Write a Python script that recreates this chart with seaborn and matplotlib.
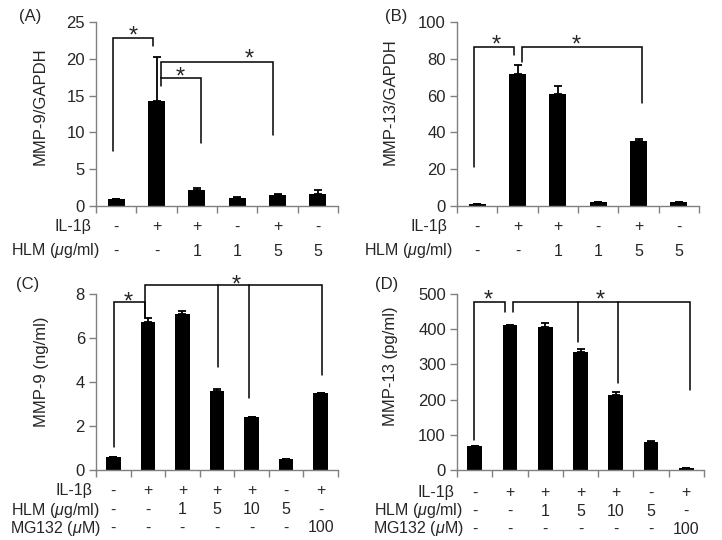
import numpy as np
import pandas as pd
import matplotlib
matplotlib.use("Agg")
import matplotlib.pyplot as plt
import matplotlib.transforms as mtransforms
import seaborn as sns

# ---- data ----
# panel A / B : 6 groups
il1b_ab = ['-', '+', '+', '-', '+', '-']
hlm_ab = ['-', '-', '1', '1', '5', '5']
mmp9_gapdh = [1.0, 14.3, 2.17, 1.1, 1.5, 1.65]
mmp9_gapdh_err = [0.0, 5.9, 0.23, 0.1, 0.1, 0.52]
mmp13_gapdh = [1.0, 71.7, 60.7, 2.0, 35.3, 2.0]
mmp13_gapdh_err = [0.0, 4.8, 4.5, 0.4, 1.1, 0.3]

# panel C / D : 7 groups
il1b_cd = ['-', '+', '+', '+', '+', '-', '+']
hlm_cd = ['-', '-', '1', '5', '10', '5', '-']
mg132_cd = ['-', '-', '-', '-', '-', '-', '100']
mmp9_ng = [0.58, 6.71, 7.09, 3.58, 2.41, 0.5, 3.49]
mmp9_ng_err = [0.0, 0.18, 0.14, 0.08, 0.0, 0.0, 0.03]
mmp13_pg = [67, 411, 407, 334, 213, 80, 6.5]
mmp13_pg_err = [2.5, 2, 10, 11, 9, 2, 0]

sns.set_theme(style="ticks")
plt.rcParams['font.family'] = ['Liberation Sans', 'DejaVu Sans']
plt.rcParams['mathtext.fontset'] = 'custom'
plt.rcParams['mathtext.rm'] = 'Liberation Sans'
plt.rcParams['mathtext.it'] = 'Liberation Sans:italic'

FS = 12
TFS = 11.5
W, H = 722, 540
fig = plt.figure(figsize=(W / 100, H / 100), dpi=100)


def fx(px):
    return px / W


def fy(py):
    return 1 - py / H


def panel(rect, vals, errs, ymax, ystep, ylabel, ylab_pos, letter, letter_pos):
    ax = fig.add_axes(rect)
    n = len(vals)
    df = pd.DataFrame({'grp': [f'g{i}' for i in range(n)], 'val': vals})
    sns.barplot(data=df, x='grp', y='val', color='black', width=0.42,
                errorbar=None, saturation=1, linewidth=0, ax=ax)
    ax.errorbar(np.arange(n), vals, yerr=[np.zeros(n), errs], fmt='none',
                ecolor='black', elinewidth=1.3, capsize=3, capthick=1.3)
    ax.set_xlim(-0.5, n - 0.5)
    ax.set_ylim(0, ymax)
    ax.set_yticks(np.arange(0, ymax + ystep / 2, ystep))
    ax.set_xticks(np.arange(-0.5, n, 1.0))
    ax.set_xticklabels([])
    ax.tick_params(axis='x', length=5, color='#808080', width=1)
    ax.tick_params(axis='y', length=5, color='#808080', width=1,
                   labelsize=FS, pad=3)
    for s in ['top', 'right']:
        ax.spines[s].set_visible(False)
    for s in ['left', 'bottom']:
        ax.spines[s].set_color('#808080')
        ax.spines[s].set_linewidth(1)
    ax.set_xlabel('')
    ax.set_ylabel(ylabel, fontsize=FS)
    ax.yaxis.set_label_coords(*ylab_pos)
    fig.text(fx(letter_pos[0]), fy(letter_pos[1]), letter, fontsize=FS,
             ha='center', va='center')
    return ax


def bracket(ax, pts, lw=1.1):
    xs, ys = zip(*pts)
    ax.plot(xs, ys, color='black', lw=lw, clip_on=False, solid_joinstyle='miter')


def star(ax, x, y):
    # shift down so the glyph itself (not its line box) is centred on y
    tr = mtransforms.offset_copy(ax.transData, fig=fig, x=0, y=-7, units='dots')
    ax.text(x, y, '*', fontsize=17, ha='center', va='center', clip_on=False,
            transform=tr)


def rows(ax, labels, label_pos, row_vals):
    tr = mtransforms.blended_transform_factory(ax.transData, fig.transFigure)
    for lab, (lx, ly), vals in zip(labels, label_pos, row_vals):
        fig.text(fx(lx), fy(ly), lab, fontsize=TFS, ha='center', va='center')
        for i, v in enumerate(vals):
            ax.text(i, fy(ly), v, fontsize=TFS, ha='center', va='center',
                    transform=tr)


# (A)
axA = panel([fx(96), fy(206), fx(242), 184 / H], mmp9_gapdh, mmp9_gapdh_err,
            25, 5, 'MMP-9/GAPDH', (-0.198, 0.54), '(A)', (30, 17))
bracket(axA, [(-0.08, 7.5), (-0.08, 22.8), (0.91, 22.8), (0.91, 21.7)])
star(axA, 0.43, 24.0)
bracket(axA, [(1.11, 16.3), (1.11, 17.4), (2.1, 17.4), (2.1, 8.6)])
star(axA, 1.6, 18.4)
bracket(axA, [(1.11, 17.4), (1.11, 19.6), (3.89, 19.6), (3.89, 9.6)])
star(axA, 3.3, 20.8)
rows(axA, ['IL-1β', 'HLM ($\\mu$g/ml)'], [(72.5, 227), (55.5, 251)],
     [il1b_ab, hlm_ab])

# (B)
axB = panel([fx(457), fy(206), fx(242), 184 / H], mmp13_gapdh, mmp13_gapdh_err,
            100, 20, 'MMP-13/GAPDH', (-0.244, 0.565), '(B)', (396, 17))
bracket(axB, [(-0.09, 21), (-0.09, 86.5), (0.91, 86.5), (0.91, 82)])
star(axB, 0.47, 91)
bracket(axB, [(1.1, 78), (1.1, 86.5), (4.09, 86.5), (4.09, 56)])
star(axB, 2.45, 91)
rows(axB, ['IL-1β', 'HLM ($\\mu$g/ml)'], [(429, 227), (408, 251)],
     [il1b_ab, hlm_ab])

# (C)
axC = panel([fx(96), fy(470), fx(242), 176 / H], mmp9_ng, mmp9_ng_err,
            8, 2, 'MMP-9 (ng/ml)', (-0.194, 0.557), '(C)', (28, 285))
bracket(axC, [(0.01, 1.05), (0.01, 7.62), (0.93, 7.62), (0.93, 6.97)])
star(axC, 0.44, 7.95)
bracket(axC, [(0.93, 6.97), (0.93, 8.4), (6.03, 8.4), (6.03, 4.32)])
bracket(axC, [(3.02, 8.4), (3.02, 4.7)])
bracket(axC, [(3.94, 8.4), (3.94, 3.26)])
star(axC, 3.57, 8.7)
rows(axC, ['IL-1β', 'HLM ($\\mu$g/ml)', 'MG132 ($\\mu$M)'],
     [(73.5, 491), (55.5, 510), (55, 528)], [il1b_cd, hlm_cd, mg132_cd])

# (D)
axD = panel([fx(457), fy(470), fx(247), 176 / H], mmp13_pg, mmp13_pg_err,
            500, 100, 'MMP-13 (pg/ml)', (-0.239, 0.59), '(D)', (387, 285))
bracket(axD, [(-0.02, 85), (-0.02, 476), (0.87, 476), (0.87, 450)])
star(axD, 0.38, 500)
bracket(axD, [(1.1, 450), (1.1, 476), (6.09, 476), (6.09, 227)])
bracket(axD, [(2.93, 476), (2.93, 364)])
bracket(axD, [(4.06, 476), (4.06, 246)])
star(axD, 3.57, 500)
rows(axD, ['IL-1β', 'HLM ($\\mu$g/ml)', 'MG132 ($\\mu$M)'],
     [(435.5, 493), (418.5, 511), (418, 529)], [il1b_cd, hlm_cd, mg132_cd])

fig.savefig('out.png', dpi=100, facecolor='white')
